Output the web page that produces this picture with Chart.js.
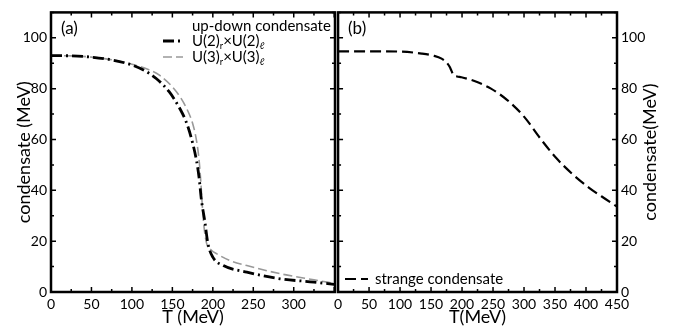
<!DOCTYPE html>
<html>
<head>
<meta charset="utf-8">
<script src="https://cdn.jsdelivr.net/npm/chart.js@4.4.1/dist/chart.umd.min.js"></script>
<style>
  body { margin: 0; background: #fff; }
  #wrap { position: relative; width: 678px; height: 326px; }
  canvas { position: absolute; top: 0; }
  #left { left: 0; }
  #right { left: 330px; }
</style>
</head>
<body>
<div id="wrap">
  <canvas id="left" width="340" height="326"></canvas>
  <canvas id="right" width="348" height="326"></canvas>
</div>
<script>
const FONT = 'Lato, "DejaVu Sans", sans-serif';

// panel (a): up-down condensate
const tU2 = [0, 25, 50, 75, 100, 115, 130, 146, 159, 167, 173.5, 180, 183, 186, 190, 194, 200, 213, 242, 283, 325, 350];
const u2Values = [93, 92.9, 92.4, 91.3, 89.3, 87.2, 84, 78.8, 72.3, 67, 60.5, 51.4, 45, 36, 28, 19, 13.7, 10.4, 7.8, 5.2, 3.9, 3.0];
const tU3 = [0, 25, 50, 75, 100, 118, 134, 155, 167.5, 175.5, 180, 183, 185, 187, 189, 192, 198, 205, 221, 242, 283, 325, 350];
const u3Values = [93, 92.9, 92.4, 91.4, 89.6, 87.8, 85.3, 78.8, 72.3, 65.8, 59.3, 52, 44, 34, 26, 19.5, 16.5, 15, 12.4, 10.4, 7.2, 4.8, 3.4];

// panel (b): strange condensate
const tStrange = [0, 50, 100, 135, 155, 167, 175, 180, 183, 186, 192, 199, 220, 246, 273, 300, 326, 352, 379, 405, 432, 450];
const strangeValues = [94.7, 94.7, 94.6, 93.8, 92.9, 91.8, 90.3, 88.6, 87, 85.4, 84.8, 84.5, 83, 80.1, 75.5, 69, 60.5, 52.7, 46.2, 41, 36.5, 33.6];

const xTicksA = [0, 50, 100, 150, 200, 250, 300];
const xTicksB = [0, 50, 100, 150, 200, 250, 300, 350, 400, 450];
const yTicks = [0, 20, 40, 60, 80, 100];

const toPoints = (xs, ys) => xs.map((x, i) => ({ x: x, y: ys[i] }));
const fixTicks = list => scale => { scale.ticks = list.map(v => ({ value: v })); };

function drawRich(ctx, parts, x, y, size) {
    let cx = x;
    parts.forEach(p => {
        const s = p.sub ? size * 0.62 : size;
        ctx.font = `${s}px ${FONT}`;
        ctx.fillText(p.t, cx, p.sub ? y + size * 0.3 : y);
        cx += ctx.measureText(p.t).width;
    });
}

// frame, inward tick marks, panel labels and legend
const framePlugin = {
    id: 'frame',
    afterDraw(chart, args, opts) {
        const { ctx, chartArea: a } = chart;
        const xs = chart.scales.x, ys = chart.scales.y;
        ctx.save();
        ctx.strokeStyle = '#000';
        ctx.lineWidth = 1.5;
        ctx.beginPath();
        for (let v = xs.min; v <= xs.max; v += 25) {
            const p = xs.getPixelForValue(v);
            const len = v % 50 === 0 ? 5 : 3;
            ctx.moveTo(p, a.bottom); ctx.lineTo(p, a.bottom - len);
            ctx.moveTo(p, a.top); ctx.lineTo(p, a.top + len);
        }
        for (let v = 0; v <= ys.max; v += 10) {
            const p = ys.getPixelForValue(v);
            const len = v % 20 === 0 ? 5 : 3;
            ctx.moveTo(a.left, p); ctx.lineTo(a.left + len, p);
            ctx.moveTo(a.right, p); ctx.lineTo(a.right - len, p);
        }
        ctx.stroke();
        ctx.lineWidth = 2.5;
        ctx.strokeRect(a.left, a.top, a.right - a.left, a.bottom - a.top);

        ctx.fillStyle = '#000';
        ctx.textBaseline = 'middle';
        ctx.textAlign = 'left';
        ctx.font = `17px ${FONT}`;
        ctx.fillText(opts.panel, a.left + 10, 29);

        (opts.legend || []).forEach(item => {
            const ds = chart.data.datasets[item.dataset];
            ctx.save();
            ctx.strokeStyle = ds.borderColor;
            ctx.lineWidth = ds.borderWidth;
            ctx.setLineDash(ds.borderDash);
            ctx.beginPath();
            ctx.moveTo(item.x1, item.y);
            ctx.lineTo(item.x2, item.y);
            ctx.stroke();
            ctx.restore();
        });
        (opts.texts || []).forEach(t => drawRich(ctx, t.parts, t.x, t.y, 15));

        if (opts.rightTitle) {
            ctx.save();
            ctx.translate(opts.rightTitle.x, opts.rightTitle.y);
            ctx.rotate(-Math.PI / 2);
            ctx.textAlign = 'center';
            ctx.font = `18px ${FONT}`;
            ctx.fillText(opts.rightTitle.text, 0, 0);
            ctx.restore();
        }
        ctx.restore();
    }
};

function xScale(max, ticks, title, hideAbove) {
    return {
        type: 'linear',
        min: 0,
        max: max,
        afterBuildTicks: fixTicks(ticks),
        afterFit: s => { s.height = 34; },
        grid: { display: false, drawTicks: false },
        border: { display: false },
        ticks: {
            color: '#000',
            padding: 4,
            maxRotation: 0,
            font: { family: FONT, size: 14 },
            callback: v => (v > hideAbove ? '' : v)
        },
        title: {
            display: true,
            text: title,
            color: '#000',
            font: { family: FONT, size: 18, lineHeight: 1 },
            padding: { top: 0, bottom: 0 }
        }
    };
}

function yScale(position, width, title) {
    return {
        type: 'linear',
        position: position,
        min: 0,
        max: 110,
        afterBuildTicks: fixTicks(yTicks),
        afterFit: s => { s.width = width; },
        grid: { display: false, drawTicks: false },
        border: { display: false },
        ticks: {
            color: '#000',
            padding: 4,
            font: { family: FONT, size: 14 }
        },
        title: {
            display: !!title,
            text: title,
            color: '#000',
            font: { family: FONT, size: 18, lineHeight: 1 },
            padding: { top: 15, bottom: 0 }
        }
    };
}

const baseOptions = {
    responsive: false,
    animation: false,
    plugins: { legend: { display: false }, tooltip: { enabled: false } },
    elements: { point: { radius: 0 } }
};

new Chart(document.getElementById('left'), {
    type: 'line',
    data: {
        datasets: [
            {
                label: 'U(2)r×U(2)ℓ',
                data: toPoints(tU2, u2Values),
                borderColor: '#000',
                borderWidth: 2.8,
                borderDash: [11, 4, 2, 4],
                cubicInterpolationMode: 'monotone',
                fill: false
            },
            {
                label: 'U(3)r×U(3)ℓ',
                data: toPoints(tU3, u3Values),
                borderColor: '#999',
                borderWidth: 1.6,
                borderDash: [9, 4],
                cubicInterpolationMode: 'monotone',
                fill: false
            }
        ]
    },
    options: {
        ...baseOptions,
        layout: { padding: { top: 8, right: 5, left: 0, bottom: 0 } },
        scales: {
            x: xScale(351, xTicksA, 'T (MeV)', 300),
            y: yScale('left', 51, 'condensate (MeV)')
        },
        plugins: {
            ...baseOptions.plugins,
            frame: {
                panel: '(a)',
                legend: [
                    { dataset: 0, x1: 163, x2: 183, y: 41 },
                    { dataset: 1, x1: 163, x2: 183, y: 57 }
                ],
                texts: [
                    { x: 192, y: 26, parts: [{ t: 'up-down condensate' }] },
                    { x: 192, y: 41, parts: [{ t: 'U(2)' }, { t: 'r', sub: true }, { t: '×U(2)' }, { t: 'ℓ', sub: true }] },
                    { x: 192, y: 57, parts: [{ t: 'U(3)' }, { t: 'r', sub: true }, { t: '×U(3)' }, { t: 'ℓ', sub: true }] }
                ]
            }
        }
    },
    plugins: [framePlugin]
});

new Chart(document.getElementById('right'), {
    type: 'line',
    data: {
        datasets: [
            {
                label: 'strange condensate',
                data: toPoints(tStrange, strangeValues),
                borderColor: '#000',
                borderWidth: 2.2,
                borderDash: [11, 5],
                cubicInterpolationMode: 'monotone',
                fill: false
            }
        ]
    },
    options: {
        ...baseOptions,
        layout: { padding: { top: 8, right: 0, left: 5, bottom: 0 } },
        scales: {
            x: xScale(450, xTicksB, 'T(MeV)', 450),
            y: yScale('right', 61, '')
        },
        plugins: {
            ...baseOptions.plugins,
            frame: {
                panel: '(b)',
                legend: [{ dataset: 0, x1: 15, x2: 38, y: 279 }],
                texts: [{ x: 45, y: 279, parts: [{ t: 'strange condensate' }] }],
                rightTitle: { text: 'condensate(MeV)', x: 320, y: 152 }
            }
        }
    },
    plugins: [framePlugin]
});
</script>
</body>
</html>
